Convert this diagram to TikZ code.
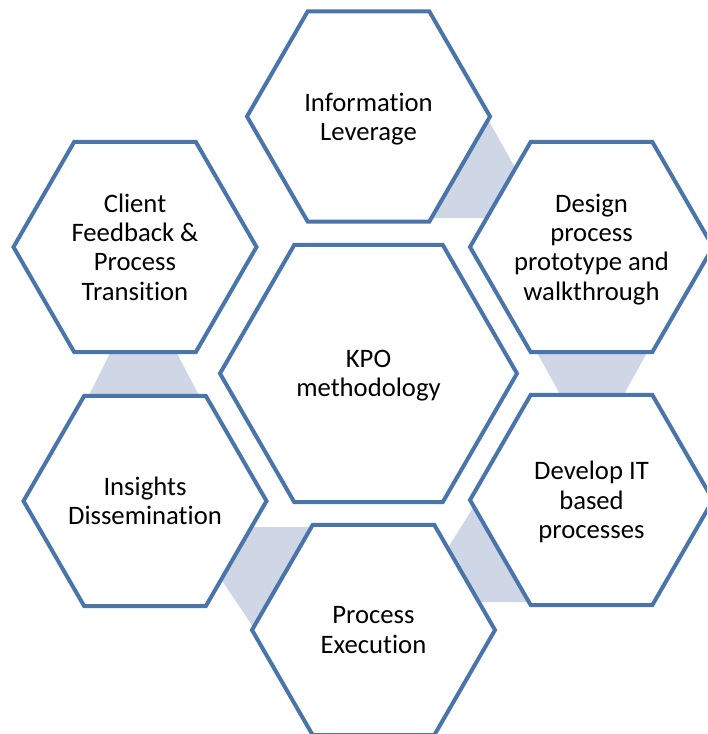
\documentclass[tikz,border=0pt]{standalone}
\usepackage{fontspec}
\setmainfont{Carlito}[Ligatures=NoCommon]
\definecolor{hexblue}{RGB}{74,117,171}
\definecolor{linkfill}{RGB}{207,214,230}
\tikzset{
  hexline/.style={draw=hexblue, line width=3pt, fill=white, line join=miter},
  linkshape/.style={fill=linkfill, draw=none},
  lbl/.style={align=center, inner sep=0pt, text depth=0pt, text=black,
    font=\fontsize{20}{22}\selectfont}
}
\newcommand{\hexat}[3]{%
  \draw[hexline] ([shift={(#1,#2)}]0:#3) -- ([shift={(#1,#2)}]60:#3) -- ([shift={(#1,#2)}]120:#3)
    -- ([shift={(#1,#2)}]180:#3) -- ([shift={(#1,#2)}]240:#3) -- ([shift={(#1,#2)}]300:#3) -- cycle;}
\begin{document}
\begin{tikzpicture}[x=0.75pt,y=-0.75pt]
\useasboundingbox (0,0) rectangle (707,734);
\clip (0,0) rectangle (707,734);
% link shapes behind the hexagons
\fill[linkshape] (480,105) -- (522,180) -- (500,218) -- (420,218) -- (420,105) -- cycle;
\fill[linkshape] (530,340) -- (654,340) -- (618,405) -- (566,405) -- cycle;
\fill[linkshape] (481,495) -- (434,570) -- (460,602) -- (545,602) -- (545,495) -- cycle;
\fill[linkshape] (230,527) -- (330,527) -- (330,640) -- (262,640) -- (208,560) -- cycle;
\fill[linkshape] (116.5,340) -- (170,340) -- (204,405) -- (84,405) -- cycle;
% hexagons
\hexat{368.5}{116.5}{121.5}
\hexat{135}{247}{121.5}
\hexat{591.5}{247}{121.5}
\hexat{368.5}{373.5}{148.5}
\hexat{145}{501}{121.5}
\hexat{591.5}{500}{121.5}
\hexat{373.5}{630}{121.5}
% labels
\node[lbl] (info) at (368.5,116.5) {Information\\Leverage};
\node[lbl] (client) at (135,247) {Client\\Feedback \&\\Process\\Transition};
\node[lbl] (design) at (591.5,247) {Design\\process\\prototype and\\walkthrough};
\node[lbl] (kpo) at (368.5,373.5) {KPO\\methodology};
\node[lbl] (insights) at (145,501) {Insights\\Dissemination};
\node[lbl] (develop) at (591.5,500) {Develop IT\\based\\processes};
\node[lbl] (exec) at (373.5,630) {Process\\Execution};
\end{tikzpicture}
\end{document}
